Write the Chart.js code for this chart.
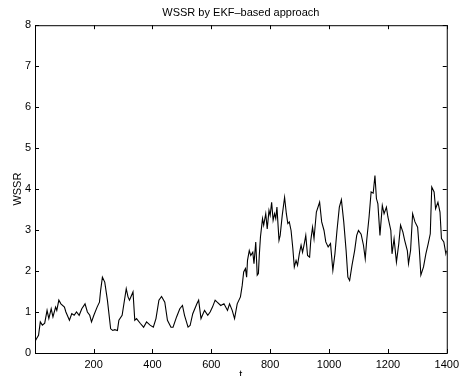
<!DOCTYPE html>
<html>
<head>
<meta charset="utf-8">
<script src="https://cdn.jsdelivr.net/npm/chart.js@4"></script>
<style>
  html, body { margin: 0; padding: 0; background: #fff; overflow: hidden; }
  #wrap { width: 464px; height: 386px; }
</style>
</head>
<body>
<div id="wrap"><canvas id="wssr" width="464" height="386"></canvas></div>
<script>
const tValues = [0, 6, 13, 19, 26, 34, 42, 48, 56, 62, 71, 75, 82, 89, 101, 106, 118, 126, 134, 142,
  151, 160, 171, 179, 187, 193, 201, 212, 220, 224, 230, 238, 247, 258, 265, 272, 281, 286, 297, 311,
  317, 322, 334, 340, 346, 359, 370, 380, 392, 403, 412, 422, 431, 442, 451, 463, 470, 482, 493, 502,
  509, 521, 528, 537, 551, 557, 565, 577, 588, 596, 604, 613, 620, 632, 643, 655, 662, 671, 679, 688,
  699, 705, 710, 716, 720, 723, 729, 734, 741, 745, 751, 756, 760, 763, 767, 774, 778, 785, 790, 796,
  800, 805, 810, 815, 819, 823, 830, 834, 841, 849, 855, 860, 865, 871, 877, 882, 888, 893, 899, 905,
  910, 916, 921, 927, 934, 938, 944, 949, 957, 968, 975, 983, 989, 997, 1005, 1013, 1020, 1027, 1035, 1042,
  1050, 1058, 1064, 1070, 1078, 1087, 1094, 1100, 1109, 1117, 1123, 1128, 1136, 1143, 1150, 1156, 1161, 1166, 1173, 1181,
  1187, 1195, 1200, 1210, 1214, 1221, 1229, 1237, 1243, 1251, 1257, 1266, 1270, 1277, 1284, 1292, 1301, 1307, 1312, 1321,
  1329, 1337, 1344, 1349, 1357, 1362, 1370, 1377, 1382, 1390, 1397, 1400];

// WSSR values
const wssrValues = [0.27, 0.35, 0.43, 0.76, 0.68, 0.73, 1.04, 0.84, 1.08, 0.88, 1.12, 1.04, 1.29, 1.20, 1.12, 1.00, 0.80, 0.96, 0.92, 1.00,
  0.92, 1.08, 1.20, 1.00, 0.92, 0.76, 0.92, 1.12, 1.24, 1.53, 1.85, 1.73, 1.29, 0.59, 0.55, 0.57, 0.55, 0.80, 0.92, 1.57,
  1.37, 1.29, 1.49, 0.80, 0.84, 0.72, 0.63, 0.76, 0.68, 0.63, 0.84, 1.29, 1.38, 1.24, 0.80, 0.63, 0.63, 0.88, 1.08, 1.16,
  0.92, 0.63, 0.67, 0.96, 1.20, 1.29, 0.84, 1.04, 0.92, 1.00, 1.12, 1.29, 1.24, 1.16, 1.20, 1.04, 1.20, 1.04, 0.84, 1.20,
  1.37, 1.65, 1.98, 2.06, 1.85, 2.26, 2.50, 2.38, 2.46, 2.18, 2.71, 1.90, 1.94, 2.38, 2.83, 3.28, 3.12, 3.40, 3.03, 3.48,
  3.36, 3.68, 3.24, 3.40, 3.28, 3.56, 2.75, 2.87, 3.36, 3.80, 3.40, 3.16, 3.20, 2.99, 2.55, 2.10, 2.26, 2.14, 2.42, 2.63,
  2.46, 2.67, 2.87, 2.38, 2.34, 2.75, 3.07, 2.79, 3.44, 3.68, 3.20, 2.99, 2.71, 2.59, 2.67, 2.02, 2.42, 2.99, 3.56, 3.74,
  3.20, 2.50, 1.85, 1.77, 2.14, 2.50, 2.87, 2.99, 2.90, 2.63, 2.30, 2.75, 3.32, 3.93, 3.90, 4.33, 3.77, 3.64, 2.87, 3.60,
  3.40, 3.56, 3.32, 2.99, 2.42, 2.79, 2.22, 2.67, 3.12, 2.95, 2.75, 2.50, 2.18, 2.50, 3.40, 3.20, 3.07, 2.50, 1.90, 2.10,
  2.42, 2.67, 2.91, 4.05, 3.93, 3.52, 3.68, 3.44, 2.79, 2.71, 2.42, 2.50];

const xTicks = [200, 400, 600, 800, 1000, 1200, 1400];
const yTicks = [0, 1, 2, 3, 4, 5, 6, 7, 8];

const fontFam = '"Liberation Sans", Arial, Helvetica, sans-serif';

// matlab style box with ticks pointing inwards
const boxTicks = {
  id: 'boxTicks',
  afterDatasetsDraw(chart) {
    const { ctx, chartArea: a, scales: { x, y } } = chart;
    ctx.save();
    ctx.strokeStyle = '#000';
    ctx.lineWidth = 1;
    ctx.strokeRect(a.left + 0.5, a.top + 0.5, a.right - a.left, a.bottom - a.top);
    ctx.beginPath();
    xTicks.forEach(v => {
      const px = Math.round(x.getPixelForValue(v)) + 0.5;
      ctx.moveTo(px, a.bottom); ctx.lineTo(px, a.bottom - 4);
      ctx.moveTo(px, a.top); ctx.lineTo(px, a.top + 4);
    });
    yTicks.forEach(v => {
      const py = Math.round(y.getPixelForValue(v)) + 0.5;
      ctx.moveTo(a.left, py); ctx.lineTo(a.left + 4, py);
      ctx.moveTo(a.right, py); ctx.lineTo(a.right - 4, py);
    });
    ctx.stroke();
    ctx.restore();
  }
};

new Chart(document.getElementById('wssr'), {
  type: 'line',
  data: {
    datasets: [{
      data: tValues.map((t, i) => ({ x: t, y: wssrValues[i] })),
      borderColor: '#000',
      borderWidth: 1.1,
      pointRadius: 0,
      tension: 0,
      fill: false
    }]
  },
  options: {
    responsive: false,
    animation: false,
    devicePixelRatio: 1,
    layout: { padding: { left: 0, right: 12, top: 0, bottom: 0 } },
    plugins: {
      legend: { display: false },
      tooltip: { enabled: false },
      title: {
        display: true,
        text: 'WSSR by EKF–based approach',
        fullSize: false,
        color: '#000',
        font: { family: fontFam, size: 11, weight: 'normal' },
        padding: { top: 6, bottom: 6 }
      }
    },
    scales: {
      x: {
        type: 'linear',
        min: 1,
        max: 1400,
        afterBuildTicks: s => { s.ticks = xTicks.map(v => ({ value: v })); },
        afterFit: s => { s.height = 33; },
        grid: { display: false, drawTicks: false },
        border: { display: false },
        ticks: { color: '#000', font: { family: fontFam, size: 11 }, padding: 5, maxRotation: 0, autoSkip: false,
                 callback: v => String(v) },
        title: { display: true, text: 't', color: '#000', font: { family: fontFam, size: 11 }, padding: { top: 0, bottom: 4 } }
      },
      y: {
        min: 0,
        max: 8,
        afterBuildTicks: s => { s.ticks = yTicks.map(v => ({ value: v })); },
        afterFit: s => { s.width = 35; },
        grid: { display: false, drawTicks: false },
        border: { display: false },
        ticks: { color: '#000', font: { family: fontFam, size: 11 }, padding: 4, callback: v => String(v) },
        title: { display: true, text: 'WSSR', color: '#000', font: { family: fontFam, size: 11 }, padding: { top: 11, bottom: 0 } }
      }
    }
  },
  plugins: [boxTicks]
});
</script>
</body>
</html>
